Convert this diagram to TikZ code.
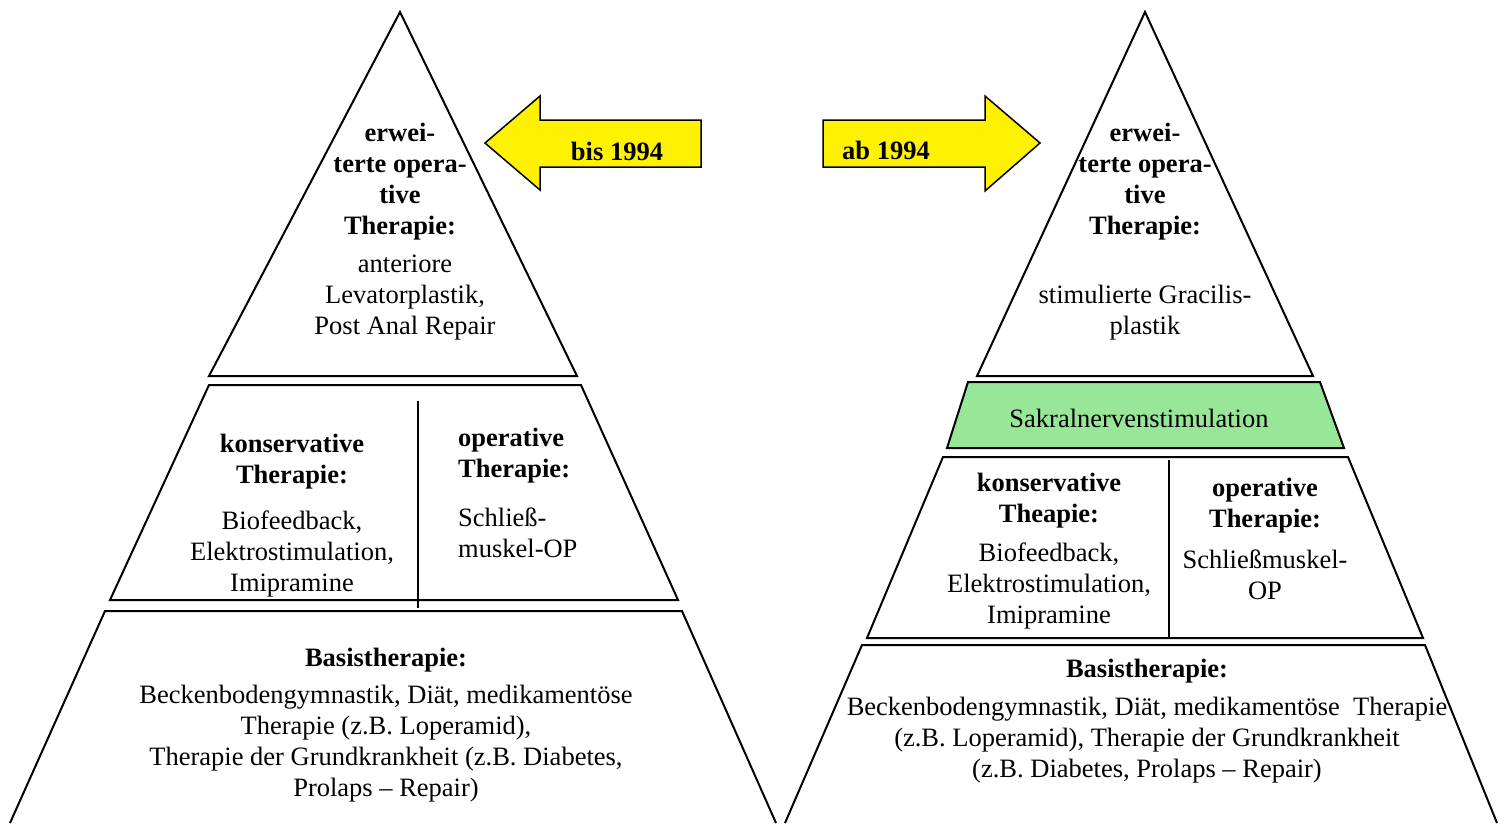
\documentclass[tikz,border=0pt]{standalone}
\usepackage{fontspec}
\setmainfont{Liberation Serif}
\usepackage{tikz}
\usepackage{xcolor}
\usetikzlibrary{positioning}
\definecolor{sakral}{RGB}{152,230,152}
\newcommand{\pyrfont}{\fontsize{26.5}{31}\selectfont}
\tikzset{lvl/.style={draw=black, line width=2pt, line join=miter},
    pfeil/.style={draw=black, fill=yellow, line width=1.5pt},
    tx/.style={font=\pyrfont, align=center, inner sep=0pt},
    tb/.style={font=\pyrfont\bfseries, align=center, inner sep=0pt}}

\begin{document}
\begin{tikzpicture}[x=1pt, y=-1pt]
                        \useasboundingbox (0, 0) rectangle (1510, 823);

                        \draw[lvl] (400, 12) -- (577, 376) -- (209, 376) -- cycle;
                        \draw[lvl] (209, 385) -- (581, 385) -- (678, 600) -- (110, 600) -- cycle;
                        \draw[lvl] (10, 823) -- (105, 611) -- (682, 611) -- (776, 823);
                        \draw[lvl] (418, 401) -- (418, 608);

                        \draw[lvl] (1145, 12) -- (1313, 376) -- (977, 376) -- cycle;
                        \draw[lvl, fill=sakral] (968, 382) -- (1320, 382) -- (1344, 448) -- (947, 448) -- cycle;
                        \draw[lvl] (943, 457) -- (1348, 457) -- (1423, 638) -- (867, 638) -- cycle;
                        \draw[lvl] (785, 823) -- (862, 645) -- (1425, 645) -- (1497, 823);
                        \draw[lvl] (1169, 460) -- (1169, 638);

                        \draw[pfeil] (485, 143) -- (540, 96) -- (540, 120) -- (701, 120)
                            -- (701, 167) -- (540, 167) -- (540, 190) -- cycle;
                        \draw[pfeil] (823, 120) -- (985, 120) -- (985, 96) -- (1040, 143)
                            -- (985, 191) -- (985, 167) -- (823, 167) -- cycle;

                        \node[tb] (bis) at (617, 151) {bis 1994};
                        \node[tb] (ab) at (886, 150) {ab 1994};

                        \node[tb] (lt1) at (400, 182) {erwei-\\terte opera-\\tive\\Therapie:};
                        \node[tx] (lt2) at (405, 298) {anteriore\\Levatorplastik,\\Post Anal Repair};
                        \node[tb] (lm1) at (292, 462) {konservative\\Therapie:};
                        \node[tx] (lm2) at (292, 554) {Biofeedback,\\Elektrostimulation,\\Imipramine};
                        \node[tb, align=left, anchor=west] (lm3) at (458, 456) {operative\\Therapie:};
                        \node[tx, align=left, anchor=west] (lm4) at (458, 533) {Schließ-\\muskel-OP};
                        \node[tb] (lb1) at (386, 660) {Basistherapie:};
                        \node[tx] (lb2) at (386, 744) {Beckenbodengymnastik, Diät, medikamentöse\\Therapie (z.B. Loperamid),\\Therapie der Grundkrankheit (z.B. Diabetes,\\Prolaps -- Repair)};

                        \node[tb] (rt1) at (1145, 182) {erwei-\\terte opera-\\tive\\Therapie:};
                        \node[tx] (rt2) at (1145, 313) {stimulierte Gracilis-\\plastik};
                        \node[tx] (rg) at (1139, 418) {Sakralnervenstimulation};
                        \node[tb] (rm1) at (1049, 501) {konservative\\Theapie:};
                        \node[tx] (rm2) at (1049, 586) {Biofeedback,\\Elektrostimulation,\\Imipramine};
                        \node[tb] (rm3) at (1265, 506) {operative\\Therapie:};
                        \node[tx] (rm4) at (1265, 575) {Schließmuskel-\\OP};
                        \node[tb] (rb1) at (1147, 671) {Basistherapie:};
                        \node[tx] (rb2) at (1147, 740) {Beckenbodengymnastik, Diät, medikamentöse~ Therapie\\(z.B. Loperamid), Therapie der Grundkrankheit\\(z.B. Diabetes, Prolaps -- Repair)};
                    \end{tikzpicture}
\end{document}
